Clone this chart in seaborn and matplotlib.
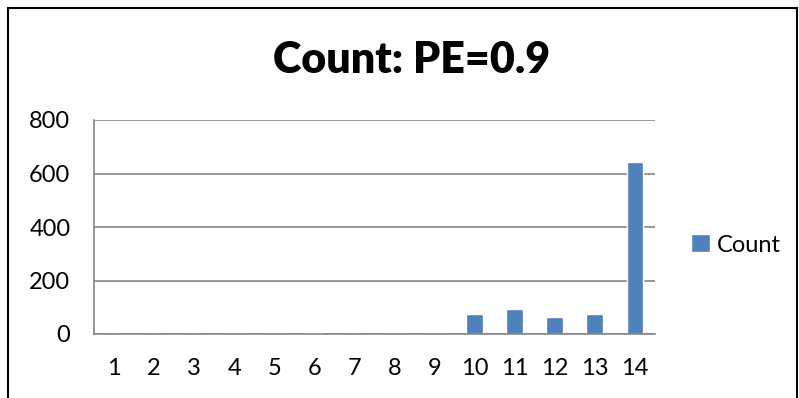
import matplotlib
matplotlib.use("Agg")
import matplotlib.pyplot as plt
from matplotlib.patches import Rectangle
import seaborn as sns
import pandas as pd

categories = [str(i) for i in range(1, 15)]
counts = [0, 0, 0, 6, 6, 4, 0, 7, 8, 75, 95, 65, 74, 643]
y_ticks = [0, 200, 400, 600, 800]
BAR_COLOR = "#4F81BD"
GRID_COLOR = "#868686"

df = pd.DataFrame({"bin": categories, "Count": counts})

sns.set_style("white")
plt.rcParams["font.family"] = ["Lato", "DejaVu Sans"]
plt.rcParams["text.color"] = "black"
plt.rcParams["xtick.labelcolor"] = "black"
plt.rcParams["ytick.labelcolor"] = "black"

fig = plt.figure(figsize=(7.99, 3.98), dpi=100)
ax = fig.add_axes([94 / 799, 1 - 334 / 398, (655 - 94) / 799, (334 - 120) / 398])

sns.barplot(data=df, x="bin", y="Count", color=BAR_COLOR, width=0.42,
            saturation=1, ax=ax, label="Count")

ax.set_ylim(0, 800)
ax.set_xlim(-0.5, 13.5)
ax.set_yticks(y_ticks)
ax.set_yticklabels([str(v) for v in y_ticks], fontsize=17)
ax.set_xticks(range(len(categories)))
ax.set_xticklabels(categories, fontsize=17)
ax.set_xticks([i - 0.5 for i in range(len(categories) + 1)], minor=True)
ax.tick_params(axis="x", which="major", length=0, pad=17)
ax.tick_params(axis="x", which="minor", length=6, color=GRID_COLOR, width=1.2, direction="out")
ax.tick_params(axis="y", length=6, color=GRID_COLOR, width=1.2, direction="out", pad=11)
ax.set_xlabel("")
ax.set_ylabel("")

ax.yaxis.grid(True, color=GRID_COLOR, linewidth=1.2)
ax.set_axisbelow(True)
for side in ["top", "right"]:
    ax.spines[side].set_visible(False)
for side in ["left", "bottom"]:
    ax.spines[side].set_color(GRID_COLOR)
    ax.spines[side].set_linewidth(1.2)

fig.text(412 / 799, 1 - 60 / 398, "Count: PE=0.9", fontsize=31, fontweight="heavy",
         color="black", ha="center", va="center")

leg = ax.legend(loc="center left", bbox_to_anchor=(1.035, 0.416), frameon=False,
                fontsize=17, handlelength=0.8, handleheight=0.8, handletextpad=0.3,
                borderpad=0.2)

# outer chart frame
fig.patches.append(Rectangle((8 / 799, -0.1), 789 / 799, 1.1 - 8 / 398,
                             transform=fig.transFigure, fill=False,
                             edgecolor="black", linewidth=1.5))

fig.savefig("out.png", dpi=100)
